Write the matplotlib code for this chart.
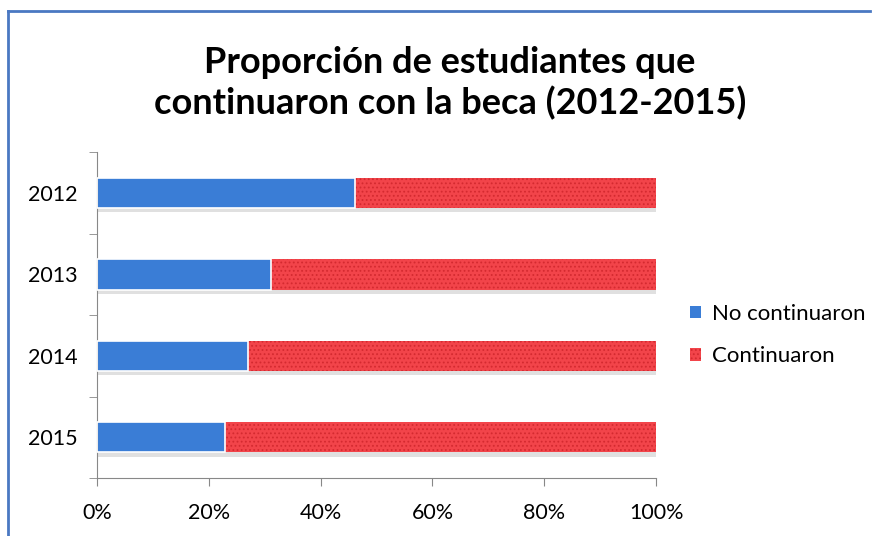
import matplotlib.pyplot as plt
from matplotlib.lines import Line2D
from matplotlib.patches import Patch
from matplotlib.ticker import FuncFormatter, FixedLocator

plt.rcParams['font.family'] = ['Lato', 'DejaVu Sans']
plt.rcParams['hatch.linewidth'] = 0.8

years = ['2012', '2013', '2014', '2015']
no_continuaron = [46.2, 31.1, 27.0, 22.9]
continuaron = [100 - v for v in no_continuaron]

blue = '#3a7dd6'
red = '#f2444a'

fig = plt.figure(figsize=(8.77, 5.36), dpi=100)
ax = fig.add_axes([0.1106, 0.108, 0.6375, 0.608])

pos = list(range(len(years)))
totals = [a + b for a, b in zip(no_continuaron, continuaron)]

# sombra bajo las barras
ax.barh([p + 0.05 for p in pos], totals, height=0.37, color='#9a9a9a', alpha=0.3,
        linewidth=0, zorder=1)

ax.barh(pos, no_continuaron, height=0.37, color=blue, edgecolor='#2860b4',
        hatch='~~~', linewidth=0, zorder=2, label='No continuaron')
ax.barh(pos, continuaron, left=no_continuaron, height=0.37, color=red,
        edgecolor='#d42a30', hatch='....', linewidth=0, zorder=2, label='Continuaron')
# separadores blancos
ax.barh(pos, no_continuaron, height=0.37, fill=False, edgecolor='white',
        linewidth=1.2, zorder=3)

ax.set_ylim(3.5, -0.5)
ax.set_xlim(0, 100)
ax.set_yticks(pos)
ax.set_yticklabels(years)
ax.yaxis.set_minor_locator(FixedLocator([-0.5, 0.5, 1.5, 2.5, 3.5]))
ax.tick_params(axis='y', which='major', length=0, pad=14, labelsize=15.5)
ax.tick_params(axis='y', which='minor', length=6, color='#888888', direction='out')
ax.set_xticks([0, 20, 40, 60, 80, 100])
ax.xaxis.set_major_formatter(FuncFormatter(lambda v, p: f'{int(v)}%'))
ax.tick_params(axis='x', length=6, color='#888888', labelsize=15.5, pad=12)

for s in ['top', 'right']:
    ax.spines[s].set_visible(False)
for s in ['left', 'bottom']:
    ax.spines[s].set_color('#888888')

fig.text(0.513, 0.845, 'Proporción de estudiantes que\ncontinuaron con la beca (2012-2015)',
         ha='center', va='center', fontsize=26, fontweight='bold', linespacing=1.25)

handles = [Patch(facecolor=blue, edgecolor='#2860b4', hatch='~~~', linewidth=0),
           Patch(facecolor=red, edgecolor='#d42a30', hatch='....', linewidth=0)]
fig.legend(handles, ['No continuaron', 'Continuaron'], loc='center left',
           bbox_to_anchor=(0.764, 0.375), frameon=False, fontsize=16,
           handlelength=0.5, handleheight=0.5, handletextpad=0.5, labelspacing=1.0)

# marco del gráfico
fig.add_artist(Line2D([0.0095, 0.992], [0.979, 0.979], color='#4a78c2', lw=2))
fig.add_artist(Line2D([0.0095, 0.0095], [0.979, 0.0], color='#4a78c2', lw=2))

fig.savefig('out.png', dpi=100)
